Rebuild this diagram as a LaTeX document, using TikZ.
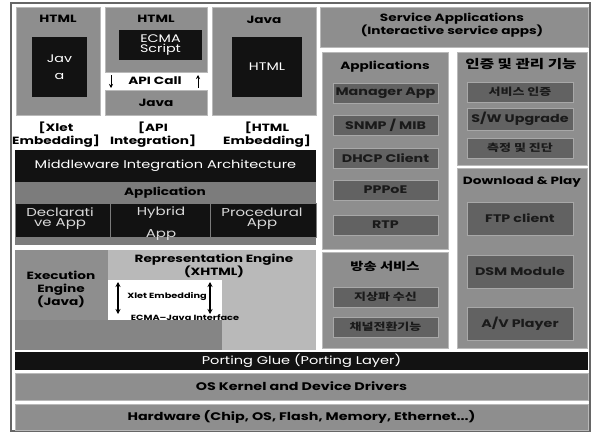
\documentclass[tikz,border=0pt]{standalone}
\usepackage{fontspec}
\setmainfont{Poppins}[FakeStretch=1.3]
\newfontfamily\kr{Noto Sans CJK KR}[FakeStretch=1.3]
\usetikzlibrary{arrows.meta}
\definecolor{gA}{HTML}{8E8E8E}
\definecolor{gB}{HTML}{7C7C7C}
\definecolor{gC}{HTML}{B9B9B9}
\definecolor{itemfill}{HTML}{626262}
\definecolor{itemtext}{HTML}{1A1A1A}
\definecolor{gE}{HTML}{858585}
\definecolor{gL}{HTML}{A8A8A8}
\definecolor{blk}{HTML}{121212}
\newcommand\bx[7]{\node[#6, anchor=north west, inner sep=0pt, outer sep=0pt, align=center,
  minimum width={(#4-#2)*1pt}, minimum height={(#5-#3)*1pt}] (#1) at (#2,#3) {#7};}
\tikzset{
  gbox/.style={fill=gA, draw=gC, line width=0.5pt},
  bbox/.style={fill=blk, draw=none, text=white, font=\fontsize{11}{12}\selectfont},
  itm/.style={fill=itemfill, draw=gL, line width=0.6pt, text=itemtext, font=\fontsize{11}{12}\selectfont\bfseries},
  kitm/.style={fill=itemfill, draw=gL, line width=0.6pt, text=itemtext, font=\kr\bfseries\fontsize{10}{12}\selectfont},
  lbl/.style={inner sep=0pt, text=black, align=center, font=\fontsize{10.5}{13}\selectfont\bfseries},
  klbl/.style={inner sep=0pt, text=black, align=center, font=\kr\bfseries\fontsize{11}{12}\selectfont},
  ltxt/.style={inner sep=0pt, text=white!85!black, align=center, font=\fontsize{11.5}{10}\selectfont},
  small/.style={inner sep=0pt, text=black, font=\fontsize{7.5}{9}\selectfont\bfseries},
  arr/.style={-{Stealth[length=4pt,width=4pt]}, line width=1pt},
  darr/.style={{Stealth[length=5pt,width=5pt]}-{Stealth[length=5pt,width=5pt]}, line width=1.3pt}
}
\begin{document}
\begin{tikzpicture}[x=1pt,y=-1pt]
\useasboundingbox (0,0) rectangle (592,434);
\fill[white] (0,0) rectangle (592,434);
\draw[gray!80!black, line width=1.2pt] (11,3) rectangle (590,431);
% ---- top left three embedding models
\bx{xbox}{16}{7}{100}{115}{gbox}{}
\node[lbl] (xh) at (58,19) {HTML};
\bx{xjava}{32}{37}{87}{97}{bbox}{Jav\\[5pt]a}
\bx{abox}{105}{7}{207}{72}{gbox}{}
\node[lbl] (ah) at (156,19) {HTML};
\bx{aecma}{119}{30}{202}{60}{bbox}{ECMA\\[-2pt]Script}
\node[lbl] (acall) at (155,81) {API Call};
\coordinate (ad1) at (111,75); \coordinate (ad2) at (111,88);
\coordinate (au1) at (198,88); \coordinate (au2) at (198,75);
\draw[arr] (ad1) -- (ad2);
\draw[arr] (au1) -- (au2);
\bx{ajava}{105}{90}{207}{115}{gbox}{\bfseries\fontsize{10.5}{12}\selectfont Java}
\bx{hbox}{212}{7}{316}{115}{gbox}{}
\node[lbl] (hj) at (264,20) {Java};
\bx{hhtml}{232}{37}{302}{97}{bbox}{HTML}
\node[lbl] (l1) at (56,135) {[Xlet\\Embedding]};
\node[lbl] (l2) at (153,135) {[API\\Integration]};
\node[lbl] (l3) at (267,135) {[HTML\\Embedding]};
% ---- middleware
\bx{mia}{15}{150}{316}{182}{fill=blk, text=white, font=\fontsize{11.2}{12}\selectfont}{Middleware Integration Architecture}
\bx{app}{15}{182}{316}{245}{fill=gB}{}
\node[lbl] (apt) at (165,193) {Application};
\bx{apd}{15}{203}{110}{237}{fill=blk, draw=gB, line width=0.6pt}{}
\bx{aph}{110}{203}{210}{237}{fill=blk, draw=gB, line width=0.6pt}{}
\bx{app2}{210}{203}{316}{237}{fill=blk, draw=gB, line width=0.6pt}{}
\node[ltxt] (t1) at (60,219) {Declarati\\ve App};
\node[ltxt] (t2a) at (161,213) {Hybrid};
\node[ltxt] (t2b) at (161,235) {App};
\node[ltxt] (t3) at (262,219) {Procedural\\App};
% ---- engines
\bx{rep}{108}{250}{316}{350}{fill=gC}{}
\node[lbl] (rept) at (214,266) {Representation Engine\\(XHTML)};
\bx{exe}{15}{250}{108}{320}{fill=gA}{}
\node[lbl] (exet) at (61,289) {Execution\\Engine\\(Java)};
\bx{exb}{15}{320}{222}{350}{fill=gE}{}
\bx{wb}{108}{280}{222}{320}{fill=white}{}
\coordinate (r1) at (118,282); \coordinate (r2) at (118,314);
\coordinate (r3) at (210,282); \coordinate (r4) at (210,314);
\draw[darr] (r1) -- (r2);
\draw[darr] (r3) -- (r4);
\node[small] (xe) at (167,297) {Xlet Embedding};
\node[small] (ej) at (185,318) {ECMA--Java Interface};
% ---- right side
\bx{sa}{320}{7}{588}{47}{gbox}{}
\node[lbl] (sat) at (452,25) {Service Applications\\(Interactive service apps)};
\bx{apc}{322}{52}{448}{249}{gbox}{}
\node[lbl] (apct) at (385,67) {Applications};
\bx{i1}{333}{83}{438}{103}{itm}{Manager App}
\bx{i2}{333}{115}{438}{135}{itm}{SNMP / MIB}
\bx{i3}{333}{148}{438}{168}{itm}{DHCP Client}
\bx{i4}{333}{180}{438}{200}{itm}{PPPoE}
\bx{i5}{333}{215}{438}{235}{itm}{RTP}
\bx{bc}{322}{252}{448}{348}{gbox}{}
\node[klbl] (bct) at (385,266) {방송 서비스};
\bx{b1}{333}{287}{438}{307}{kitm}{지상파 수신}
\bx{b2}{333}{317}{438}{337}{kitm}{채널전환기능}
\bx{au}{457}{52}{587}{165}{gbox}{}
\node[klbl, font=\kr\bfseries\fontsize{12}{12}\selectfont] (aut) at (521,64) {인증 및 관리 기능};
\bx{u1}{467}{82}{573}{102}{kitm}{서비스 인증}
\bx{u2}{467}{108}{573}{130}{itm}{S/W Upgrade}
\bx{u3}{467}{138}{573}{158}{kitm}{측정 및 진단}
\bx{dp}{457}{168}{587}{348}{gbox}{}
\node[lbl] (dpt) at (522,182) {Download \& Play};
\bx{d1}{467}{202}{573}{235}{itm}{FTP client}
\bx{d2}{467}{255}{573}{288}{itm}{DSM Module}
\bx{d3}{467}{307}{573}{340}{itm}{A/V Player}
% ---- bottom layers
\bx{pg}{15}{352}{588}{370}{fill=blk, text=white, font=\fontsize{11.2}{12}\selectfont}{Porting Glue (Porting Layer)}
\bx{os}{15}{373}{588}{400}{gbox, font=\fontsize{11}{12}\selectfont\bfseries}{OS Kernel and Device Drivers}
\bx{hw}{15}{404}{588}{430}{gbox, font=\fontsize{11}{12}\selectfont\bfseries}{Hardware (Chip, OS, Flash, Memory, Ethernet...)}
\end{tikzpicture}
\end{document}
